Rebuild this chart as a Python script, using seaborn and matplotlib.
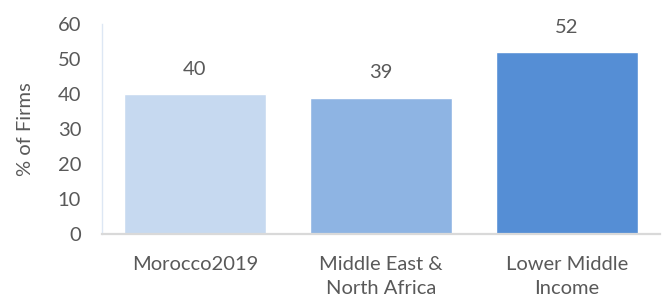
import matplotlib
matplotlib.use("Agg")
import matplotlib.pyplot as plt
import seaborn as sns
import pandas as pd

categories = ["Morocco2019", "Middle East &\nNorth Africa", "Lower Middle\nIncome"]
values = [40, 39, 52]
bar_labels = ["40", "39", "52"]
colors = ["#c6d9f0", "#8eb4e3", "#558ed5"]
y_ticks = [0, 10, 20, 30, 40, 50, 60]

sns.set_theme(style="white")
plt.rcParams['font.family'] = ['Lato', 'DejaVu Sans']

df = pd.DataFrame({"cat": categories, "val": values})

fig = plt.figure(figsize=(6.63, 3.0), dpi=100)
ax = fig.add_axes([102/663, 1-234/300, 558/663, 210/300])

sns.barplot(data=df, x="cat", y="val", hue="cat", palette=colors,
            width=0.76, ax=ax, legend=False, saturation=1)

fs = 14.5
ax.set_xlim(-0.5, 2.5)
ax.set_ylim(0, 60)
ax.set_yticks(y_ticks)
text_col = "#595959"
ax.tick_params(axis="y", length=0, pad=15, labelsize=fs, labelcolor=text_col)
ax.tick_params(axis="x", length=0, pad=16, labelsize=fs, labelcolor=text_col)
for lbl in ax.get_xticklabels():
    lbl.set_linespacing(1.5)
ax.set_xlabel("")
ax.set_ylabel("% of Firms", fontsize=fs, color=text_col, labelpad=17)

for s in ["top", "right"]:
    ax.spines[s].set_visible(False)
ax.spines["bottom"].set_color("#d9d9d9")
ax.spines["bottom"].set_linewidth(1.6)
ax.spines["left"].set_color("#dde7f4")
ax.spines["left"].set_linewidth(1.0)

for i, (v, t) in enumerate(zip(values, bar_labels)):
    ax.text(i, v + 7, t, ha="center", va="center", fontsize=fs,
            color=text_col, clip_on=False)

fig.savefig("out.png", dpi=100)
